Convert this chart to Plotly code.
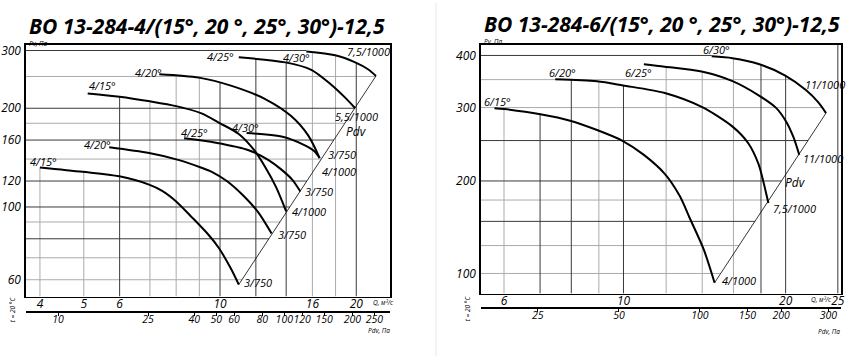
import numpy as np
import plotly.graph_objects as go

# ---------------- titles ----------------
TITLE_LEFT = "ВО 13-284-4/(15°, 20 °, 25°, 30°)-12,5"
TITLE_RIGHT = "ВО 13-284-6/(15°, 20 °, 25°, 30°)-12,5"

# ---------------- left chart: ВО 13-284-4 (Q, m3/s ; Pv, Pa) ----------------
L_415_750_Q = [4.0, 4.97, 5.99, 6.97, 7.45, 8.0, 8.67, 9.45, 9.94, 10.56, 11.0]
L_415_750_P = [132, 128, 124, 117, 112, 104, 93, 82, 75, 65, 58]
L_420_750_Q = [5.69, 6.97, 8.12, 9.07, 9.59, 10.35, 11.28, 12.17, 13.0]
L_420_750_P = [152, 146, 139, 132, 128, 120, 108, 96, 83]
L_425_750_Q = [8.33, 9.79, 11.57, 12.8, 13.67, 14.45, 15.05]
L_425_750_P = [162, 157, 149, 139, 130, 121, 111.5]
L_430_750_Q = [11.45, 13.67, 15.28, 16.16, 16.6]
L_430_750_P = [168, 164, 155, 148, 141]
L_415_1000_Q = [5.1, 6.0, 7.0, 8.0, 9.1, 10.0, 11.0, 11.9, 12.6, 13.3, 14.0]
L_415_1000_P = [222, 217, 210, 203, 193, 180, 167, 149, 132, 115, 97]
L_420_1000_Q = [7.34, 8.98, 10.61, 12.61, 14.38, 15.67, 16.6]
L_420_1000_P = [254, 248, 234, 213, 189, 165, 141]
L_425_1000_Q = [11.0, 13.95, 15.91, 17.61, 19.0, 19.89]
L_425_1000_P = [286, 276, 262, 236, 214, 200]
L_430_1000_Q = [15.51, 17.97, 19.89, 21.23, 22.11]
L_430_1000_P = [298, 290, 276, 263, 251]

L_CURVE_NAMES = ["4/15°", "4/20°", "4/25°", "4/30°", "4/15°", "4/20°", "4/25°", "4/30°"]
L_END_LABELS = ["3/750", "3/750", "3/750", "3/750", "4/1000", "4/1000", "5,5/1000", "7,5/1000"]

L_Q_TICKS = [4, 5, 6, 10, 16, 20]
L_P_TICKS = [60, 100, 120, 160, 200, 300]
L_P_TICKTEXT = ["60", "100", "120", "160", "200", "300"]
L_PDV_TICKS = [10, 25, 40, 50, 60, 80, 100, 120, 150, 200, 250]
L_GRID_Q_MAJOR = [6, 10, 12, 14, 20]
L_GRID_Q_MINOR = [4, 5, 7, 8, 9, 16, 18]
L_GRID_P_MAJOR = [80, 100, 120, 160, 200, 300]
L_GRID_P_MINOR = [60, 70, 90, 140, 180, 250]

# ---------------- right chart: ВО 13-284-6 ----------------
R_615_Q = [5.76, 6.01, 7.01, 7.96, 8.93, 9.94, 10.91, 11.93, 12.72, 13.27, 14.09, 14.76]
R_615_P = [299, 297.5, 289, 279, 265, 250, 231, 208, 184, 163, 137, 114]
R_620_Q = [7.47, 8.93, 9.98, 11.93, 13.97, 15.94, 17.06, 17.8, 18.19, 18.58]
R_620_P = [351, 347, 339, 325, 301, 270, 246, 220, 199, 177]
R_625_Q = [10.91, 11.93, 13.97, 15.94, 17.88, 19.22, 20.06, 20.67, 21.2]
R_625_P = [381, 376, 366, 347, 320, 299, 277, 255, 231]
R_630_Q = [14.58, 15.94, 17.88, 19.97, 21.84, 22.98, 23.77]
R_630_P = [398, 394, 381, 358, 330, 309, 291]

R_CURVE_NAMES = ["6/15°", "6/20°", "6/25°", "6/30°"]
R_END_LABELS = ["4/1000", "7,5/1000", "11/1000", "11/1000"]

R_Q_TICKS = [6, 10, 20, 25]
R_P_TICKS = [120, 200, 300, 400]
R_P_TICKTEXT = ["100", "200", "300", "400"]
R_PDV_TICKS = [25, 50, 100, 150, 200, 300]
R_GRID_Q_MAJOR = [7, 8, 10, 18, 20, 25]
R_GRID_Q_MINOR = [6, 9, 12, 14, 16]
R_GRID_P_MAJOR = [160, 200, 250, 400]
R_GRID_P_MINOR = [120, 140, 180, 300, 350]

PDV_COEF = 0.52  # dynamic pressure Pdv = PDV_COEF * Q^2

# ---------------- layout constants (styles / positions) ----------------
W, H = 866, 358
FONT = "Open Sans"
DARK = "#3a3a3a"
LIGHT = "#ababab"


def px_x(p):
    return p / W


def px_y(p):
    return 1 - p / H


def lg(v):
    return np.log10(np.asarray(v, dtype=float))


left_curves = [
    (L_415_750_Q, L_415_750_P), (L_420_750_Q, L_420_750_P),
    (L_425_750_Q, L_425_750_P), (L_430_750_Q, L_430_750_P),
    (L_415_1000_Q, L_415_1000_P), (L_420_1000_Q, L_420_1000_P),
    (L_425_1000_Q, L_425_1000_P), (L_430_1000_Q, L_430_1000_P),
]
right_curves = [(R_615_Q, R_615_P), (R_620_Q, R_620_P), (R_625_Q, R_625_P), (R_630_Q, R_630_P)]

panels = [
    dict(xa="x", ya="y", xr=[0.571, 1.376], yr=[1.727, 2.495], curves=left_curves,
         names=L_CURVE_NAMES, ends=L_END_LABELS,
         gq=(L_GRID_Q_MAJOR, L_GRID_Q_MINOR), gp=(L_GRID_P_MAJOR, L_GRID_P_MINOR),
         start_off=[(4, -6), (-12, -3), (10, -6), (-1, -6), (15, -8), (-11, -2), (-18, -1), (-10, 6)],
         end_off=[(3, -2), (4, 1), (3, 0), (6, -4), (4, 0), (0, 13), (-22, 8), (-31, -24)],
         pdv=(L_PDV_TICKS, "x3"), pdv_pos=311),
    dict(xa="x2", ya="y2", xr=[0.735, 1.404], yr=[2.031, 2.628], curves=right_curves,
         names=R_CURVE_NAMES, ends=R_END_LABELS,
         gq=(R_GRID_Q_MAJOR, R_GRID_Q_MINOR), gp=(R_GRID_P_MAJOR, R_GRID_P_MINOR),
         start_off=[(3, -7), (7, -7), (-5, 8), (5, -7)],
         end_off=[(5, -2), (3, 5), (2, 4), (-23, -29)],
         pdv=(R_PDV_TICKS, "x4"), pdv_pos=307),
]

fig = go.Figure()
annotations = []

for p in panels:
    curves = p["curves"]
    xr, yr = p["xr"], p["yr"]

    def env(q, curves=curves, yr=yr):
        vals = [10 ** np.interp(np.log10(q), lg(c[0]), lg(c[1]))
                for c in curves if c[0][0] - 1e-9 <= q <= c[0][-1] + 1e-9]
        return max(vals) if vals else 10 ** yr[1]

    ends = sorted([(c[0][-1], c[1][-1]) for c in curves])
    (qlo, plo), (qhi, phi) = ends[0], ends[-1]
    slope = (np.log10(phi) - np.log10(plo)) / (np.log10(qhi) - np.log10(qlo))
    outer = max(curves, key=lambda c: c[0][-1])

    def hbound(pv, qlo=qlo, plo=plo, phi=phi, slope=slope, outer=outer, xr=xr):
        if pv <= phi:
            lq = np.log10(qlo) + (np.log10(pv) - np.log10(plo)) / slope
        elif pv <= outer[1][0]:
            lq = np.interp(np.log10(pv), lg(outer[1])[::-1], lg(outer[0])[::-1])
        else:
            lq = np.log10(outer[0][0])
        return 10 ** min(lq, xr[1])

    for qs, ps, color, width in [(p["gq"][1], p["gp"][1], LIGHT, 1.0),
                                 (p["gq"][0], p["gp"][0], DARK, 1.0)]:
        xs, ys = [], []
        for q in qs:
            xs += [q, q, None]
            ys += [10 ** yr[0], env(q), None]
        for pv in ps:
            xs += [10 ** xr[0], hbound(pv), None]
            ys += [pv, pv, None]
        fig.add_trace(go.Scatter(x=xs, y=ys, mode="lines", line=dict(color=color, width=width),
                                 xaxis=p["xa"], yaxis=p["ya"], hoverinfo="skip", showlegend=False))

    fig.add_trace(go.Scatter(x=[qlo, qhi], y=[plo, phi], mode="lines",
                             line=dict(color="black", width=0.8),
                             xaxis=p["xa"], yaxis=p["ya"], hoverinfo="skip", showlegend=False))

    for i, (q, pv) in enumerate(curves):
        fig.add_trace(go.Scatter(x=q, y=pv, mode="lines",
                                 line=dict(color="black", width=2, shape="spline", smoothing=0.8),
                                 xaxis=p["xa"], yaxis=p["ya"], hoverinfo="skip", showlegend=False))
        sdx, sdy = p["start_off"][i]
        annotations.append(dict(x=np.log10(q[0]), y=np.log10(pv[0]), xref=p["xa"], yref=p["ya"],
                                text=p["names"][i], showarrow=False, xanchor="center", yanchor="middle",
                                xshift=sdx, yshift=-sdy,
                                font=dict(family=FONT, size=11, style="italic", color="black")))
        edx, edy = p["end_off"][i]
        annotations.append(dict(x=np.log10(q[-1]), y=np.log10(pv[-1]), xref=p["xa"], yref=p["ya"],
                                text=p["ends"][i], showarrow=False, xanchor="left", yanchor="middle",
                                xshift=edx, yshift=-edy,
                                font=dict(family=FONT, size=11, style="italic", color="black")))

    pdv_ticks, pdv_axis = p["pdv"]
    fig.add_trace(go.Scatter(x=pdv_ticks, y=[None] * len(pdv_ticks), mode="markers",
                             xaxis=pdv_axis, yaxis=p["ya"], hoverinfo="skip", showlegend=False))

tick_font = dict(family=FONT, size=12, style="italic", color="black")
pdv_font = dict(family=FONT, size=10.5, style="italic", color="black")
small_font = dict(family=FONT, size=6.5, style="italic", color="black")


def q_axis(domain, rng, ticks, anchor):
    return dict(domain=domain, type="log", range=rng, anchor=anchor,
                tickvals=ticks, ticktext=[str(t) for t in ticks], tickangle=0,
                showgrid=False, zeroline=False, showline=True, mirror=True,
                linecolor="black", linewidth=1.5, ticks="", tickfont=tick_font,
                ticklabelstandoff=-4, fixedrange=True)


def p_axis(domain, rng, ticks, text, anchor):
    return dict(domain=domain, type="log", range=rng, anchor=anchor,
                tickvals=ticks, ticktext=text,
                showgrid=False, zeroline=False, showline=True, mirror=True,
                linecolor="black", linewidth=1.5, ticks="", tickfont=tick_font,
                ticklabelstandoff=1, fixedrange=True)


def pdv_axis(over, qrange, ticks, pos):
    lc = np.log10(PDV_COEF)
    return dict(overlaying=over, anchor="free", position=pos, side="bottom", type="log",
                range=[lc + 2 * qrange[0], lc + 2 * qrange[1]],
                tickvals=ticks, ticktext=[str(t) for t in ticks], tickangle=0,
                showgrid=False, zeroline=False, showline=True, linecolor="black", linewidth=1.2,
                ticks="outside", ticklen=3, tickcolor="black", tickwidth=1,
                tickfont=pdv_font, ticklabelstandoff=-5, fixedrange=True)


lp, rp = panels
fig.update_layout(
    xaxis=q_axis([px_x(26), px_x(392)], lp["xr"], L_Q_TICKS, "y"),
    yaxis=p_axis([px_y(296), px_y(42)], lp["yr"], L_P_TICKS, L_P_TICKTEXT, "x"),
    xaxis2=q_axis([px_x(483), px_x(845)], rp["xr"], R_Q_TICKS, "y2"),
    yaxis2=p_axis([px_y(293), px_y(42)], rp["yr"], R_P_TICKS, R_P_TICKTEXT, "x2"),
    xaxis3=pdv_axis("x", lp["xr"], L_PDV_TICKS, px_y(lp["pdv_pos"])),
    xaxis4=pdv_axis("x2", rp["xr"], R_PDV_TICKS, px_y(rp["pdv_pos"])),
)

annotations.append(dict(x=px_x(27), y=px_y(23), xref="paper", yref="paper", xanchor="left", yanchor="middle",
                        text="<b><i>%s</i></b>" % TITLE_LEFT, showarrow=False,
                        font=dict(family=FONT, size=21, color="black")))
annotations.append(dict(x=px_x(484), y=px_y(21), xref="paper", yref="paper", xanchor="left", yanchor="middle",
                        text="<b><i>%s</i></b>" % TITLE_RIGHT, showarrow=False,
                        font=dict(family=FONT, size=21, color="black")))

small = [
    ("Pv, Па", 27, 41, "left", 0), ("Pv, Па", 484, 39, "left", 0),
    ("Q, м³/с", 373, 302, "left", 0), ("Q, м³/с", 813, 299, "left", 0),
    ("Pdv, Па", 368, 330, "left", 0), ("Pdv, Па", 820, 331, "left", 0),
    ("t = 20 °C", 12, 309, "center", -90), ("t = 20 °C", 470, 308, "center", -90),
]
for txt, x, y, xa, ang in small:
    annotations.append(dict(x=px_x(x), y=px_y(y), xref="paper", yref="paper", xanchor=xa, yanchor="middle",
                            text=txt, showarrow=False, textangle=ang, font=small_font))

for x, y in [(358, 130), (799, 181)]:
    annotations.append(dict(x=px_x(x), y=px_y(y), xref="paper", yref="paper", xanchor="center",
                            yanchor="middle", text="Pdv", showarrow=False,
                            font=dict(family=FONT, size=12, style="italic", color="black")))

fig.update_layout(
    width=W, height=H, margin=dict(l=0, r=0, t=0, b=0),
    paper_bgcolor="white", plot_bgcolor="white",
    showlegend=False, hovermode=False,
    font=dict(family=FONT, color="black"),
    annotations=annotations,
    shapes=[dict(type="line", xref="paper", yref="paper", x0=px_x(438), x1=px_x(438),
                 y0=px_y(356), y1=px_y(0), line=dict(color="#e8e8e8", width=1))],
)

fig.write_html("out.html", config={"displayModeBar": False, "staticPlot": True},
               post_script="document.body.style.margin='0';document.body.style.overflow='hidden';")
